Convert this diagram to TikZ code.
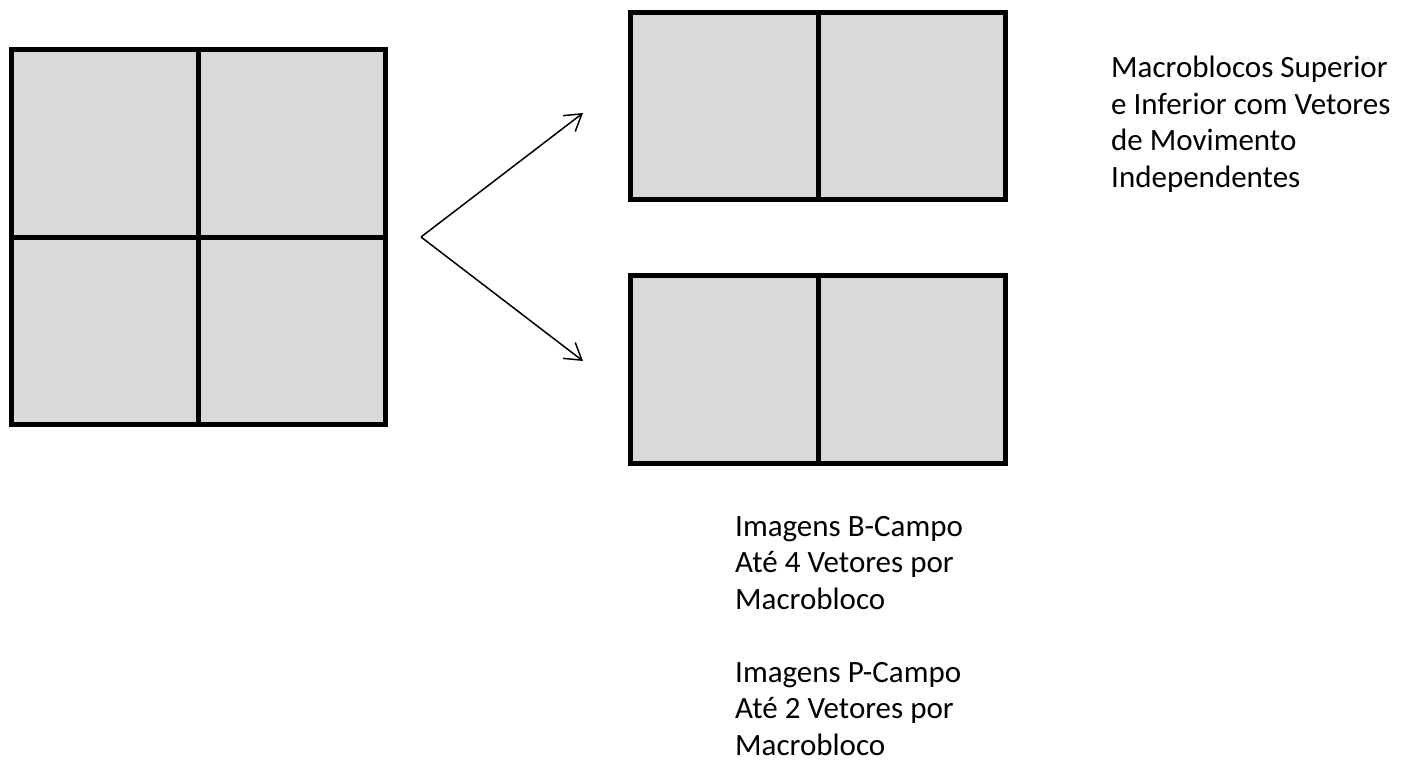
\documentclass[tikz,border=0pt]{standalone}
\usepackage{fontspec}
\setmainfont{Carlito}
\usetikzlibrary{arrows.meta}
\definecolor{blockgray}{HTML}{D9D9D9}
\tikzset{
  blk/.style={draw=black, line width=5pt, fill=blockgray, inner sep=0pt, outer sep=0pt},
  divider/.style={draw=black, line width=5pt},
  arr/.style={draw=black, line width=1.5pt, -{Straight Barb[length=16pt,width=20pt,line width=1.5pt]}},
  lbl/.style={anchor=base west, inner sep=0pt, align=left, font=\fontsize{31}{36.5}\selectfont}
}
\begin{document}
\begin{tikzpicture}[x=1pt,y=-1pt]
\useasboundingbox (0,0) rectangle (1407,763);
% big macroblock
\node[blk, minimum width=374pt, minimum height=375pt] (big) at (198.5,237) {};
\draw[divider] (big.north) -- (big.south);
\draw[divider] (big.west) -- (big.east);
% top field block
\node[blk, minimum width=374.5pt, minimum height=187.5pt] (top) at (818,105.75) {};
\draw[divider] (top.north) -- (top.south);
% bottom field block
\node[blk, minimum width=374.5pt, minimum height=187.5pt] (bot) at (818,369.25) {};
\draw[divider] (bot.north) -- (bot.south);
% arrows
\coordinate (o) at (421,237);
\coordinate (t1) at (583,113);
\coordinate (t2) at (583,361);
\draw[arr] (o) -- (t1);
\draw[arr] (o) -- (t2);
% labels (base anchor = last line)
\node[lbl] (l1) at (1111,187) {Macroblocos Superior\\e Inferior com Vetores\\de Movimento\\Independentes};
\node[lbl] (l2) at (735,755) {Imagens B-Campo\\Até 4 Vetores por\\Macrobloco\\[36.5pt]Imagens P-Campo\\Até 2 Vetores por\\Macrobloco};
\end{tikzpicture}
\end{document}
